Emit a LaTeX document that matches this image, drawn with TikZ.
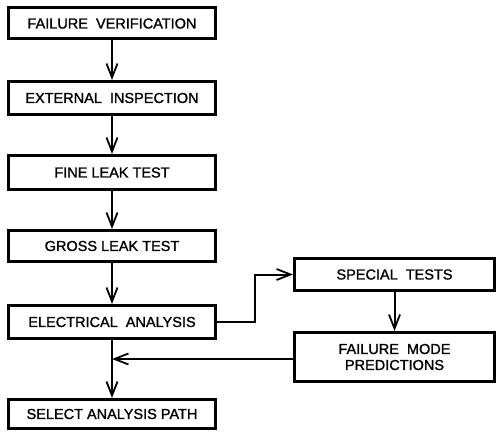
\documentclass[tikz,border=0pt]{standalone}
\usepackage{fontspec}
\setmainfont[FakeBold=1.3]{Liberation Sans}
\usetikzlibrary{arrows.meta}
\begin{document}
\begin{tikzpicture}[x=1pt,y=1pt,
  box/.style={draw, line width=3pt, minimum width=207pt, inner sep=0pt, align=center,
    font=\fontsize{14.5}{16}\selectfont},
  rbox/.style={box, minimum width=200pt},
  conn/.style={line width=2pt, -{Straight Barb[length=14pt,width=11pt,line width=1.8pt]}}]
\useasboundingbox (0,0) rectangle (497,432);
\node[box, minimum height=31pt] (fv) at (112,408.5) {FAILURE\ \ VERIFICATION};
\node[box, minimum height=33pt] (ei) at (112,334) {EXTERNAL\ \ INSPECTION};
\node[box, minimum height=34pt] (fl) at (112,259.5) {FINE LEAK TEST};
\node[box, minimum height=31pt] (gl) at (112,186) {GROSS LEAK TEST};
\node[box, minimum height=33pt] (ea) at (112,110) {ELECTRICAL\ \ ANALYSIS};
\node[box, minimum height=29pt] (sa) at (112,18) {SELECT ANALYSIS PATH};
\node[rbox, minimum height=32pt] (st) at (394.5,157.5) {SPECIAL\ \ TESTS};
\node[rbox, minimum height=49pt] (fm) at (394.5,75) {FAILURE\ \ MODE\\PREDICTIONS};
\coordinate (j) at (112,73);
\draw[conn] (fv) -- (ei);
\draw[conn] (ei) -- (fl);
\draw[conn] (fl) -- (gl);
\draw[conn] (gl) -- (ea);
\draw[conn] (ea.east) -- ++(38,0) |- (st.west);
\draw[conn] (st) -- (fm);
\draw[conn] (fm.west |- j) -- (j);
\draw[conn] (ea) -- (sa);
\end{tikzpicture}
\end{document}
